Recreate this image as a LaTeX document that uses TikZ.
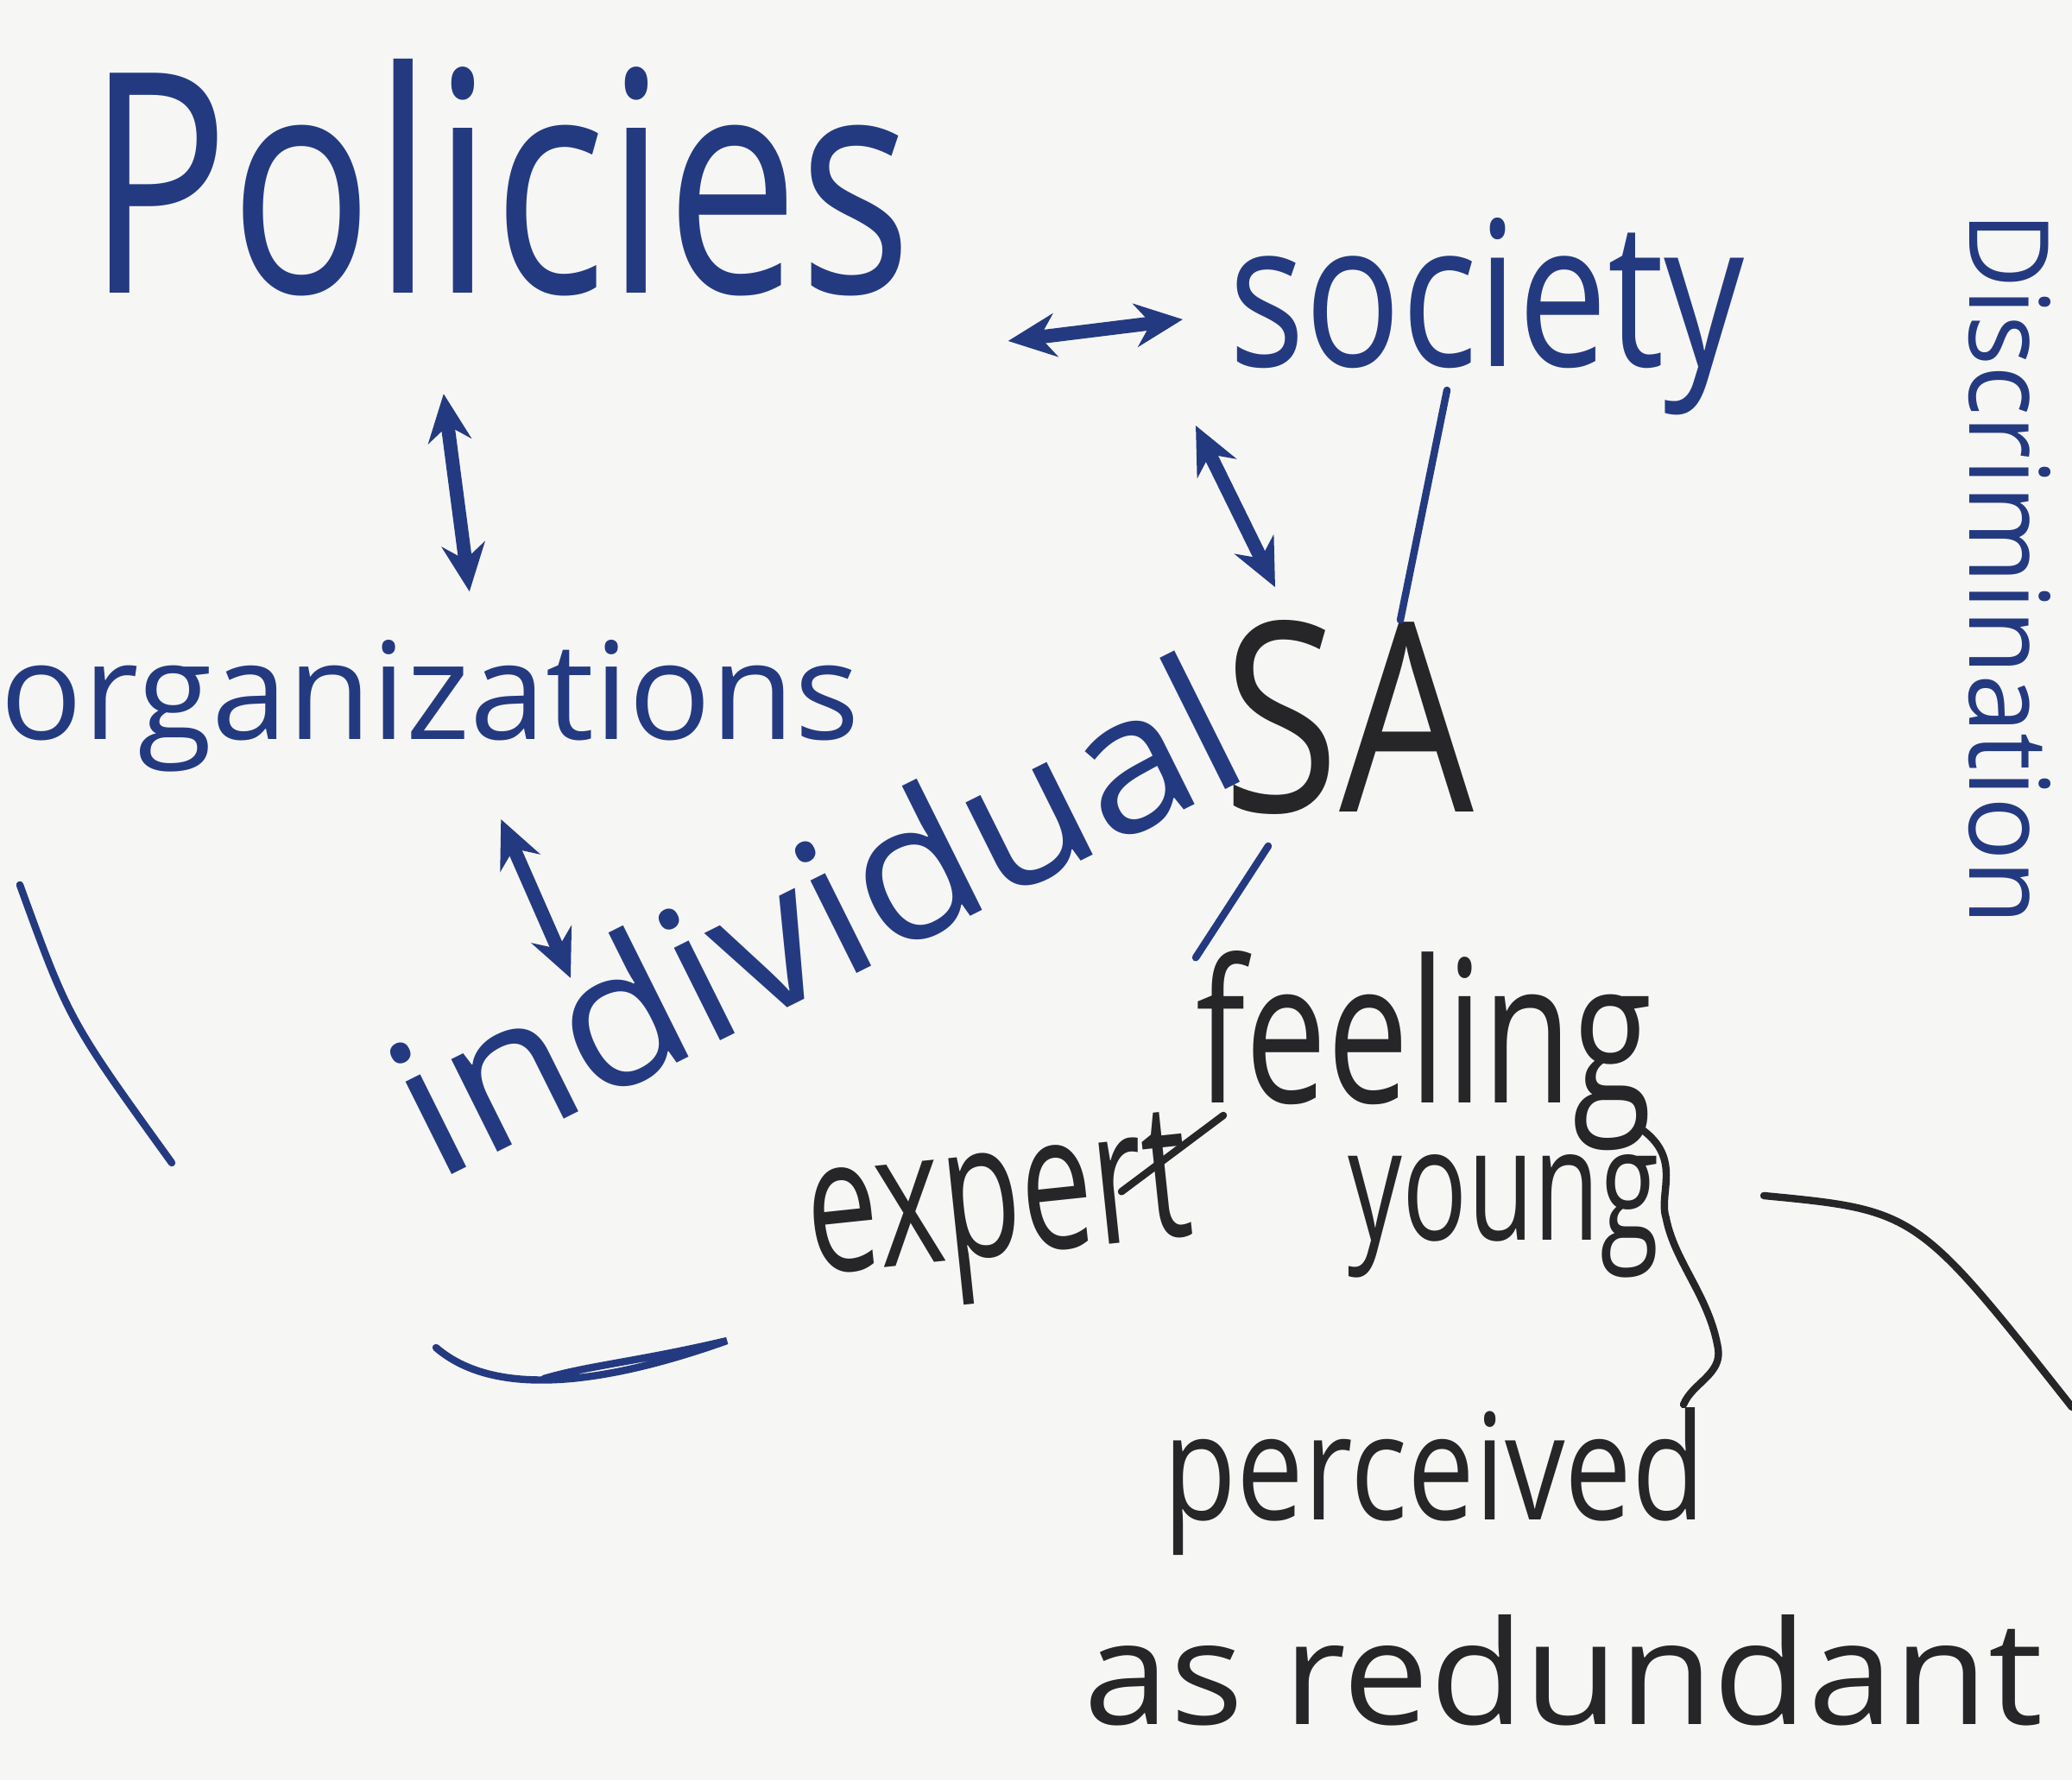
\documentclass[tikz,border=0pt]{standalone}
\usepackage{fontspec}
\usepackage{graphicx}
\setmainfont{Open Sans}
\usetikzlibrary{arrows.meta}
\definecolor{inkblue}{RGB}{36,58,128}
\definecolor{inkblack}{RGB}{38,38,40}
\definecolor{paper}{RGB}{246,246,245}
\newcommand{\hw}[3]{\resizebox{#1}{#2}{#3}}
\tikzset{
  word/.style={inner sep=0pt, anchor=base west},
  dbl/.style={draw=inkblue, line width=4.5pt, {Stealth[length=0.55cm,width=0.5cm]}-{Stealth[length=0.55cm,width=0.5cm]}},
  pen/.style={line width=2.4pt, line cap=round},
}
\begin{document}
\begin{tikzpicture}
\fill [paper] (0, 0) rectangle (24, 20.62);
\useasboundingbox (0, 0) rectangle (24, 20.62);
\node [word, text=inkblue] (pol) at (1.0, 17.22) {\hw{9.56cm}{2.71cm}{Policies}};
\node [word, text=inkblue] (soc) at (14.23, 16.37) {\hw{5.97cm}{1.72cm}{society}};
\node [word, text=inkblue] (org) at (0, 12.05) {\hw{9.95cm}{1.15cm}{organizations}};
\node [word, text=inkblue, rotate=26.5] (ind) at (5.05, 6.92) {\hw{10.6cm}{1.7cm}{individual}};
\node [word, text=inkblack] (sa) at (14.16, 11.21) {\hw{2.91cm}{2.22cm}{SA}};
\node [word, text=inkblack] (feel) at (13.85, 7.84) {\hw{5.28cm}{1.76cm}{feeling}};
\node [word, text=inkblack, rotate=6] (exp) at (9.41, 5.85) {\hw{4.45cm}{1.45cm}{expert}};
\node [word, text=inkblack] (yng) at (15.61, 6.25) {\hw{3.6cm}{0.99cm}{young}};
\node [word, text=inkblack] (perc) at (13.47, 3.02) {\hw{6.28cm}{1.3cm}{perceived}};
\node [word, text=inkblack] (red) at (12.55, 0.65) {\hw{11.1cm}{1.27cm}{as redundant}};
\node [word, text=inkblue, rotate=-90] (disc) at (22.81, 18.17) {\hw{8.26cm}{0.94cm}{Discrimination}};
\draw [dbl] ([xshift=1.10cm, yshift=-0.55cm]pol.base east) -- ([xshift=-0.53cm, yshift=0.55cm]soc.base west);
\draw [dbl] ([xshift=-0.65cm, yshift=-1.12cm]pol.south) -- ([xshift=0.455cm, yshift=0.56cm]org.north);
\draw [dbl] ([xshift=0.82cm, yshift=-0.92cm]org.base) -- ([xshift=1.56cm, yshift=2.37cm]ind.base west);
\draw [dbl] ([xshift=-0.38cm, yshift=-0.68cm]soc.base west) -- ([xshift=0.61cm, yshift=0.38cm]sa.north west);
\draw [pen, inkblue] ([xshift=2.53cm, yshift=-0.27cm]soc.base west) -- ([xshift=2.06cm]sa.north west);
\draw [pen, inkblue] ([xshift=0.53cm, yshift=-0.39cm]sa.base west) -- ([yshift=-0.08cm]feel.north west);
\draw [pen, inkblack] ([xshift=-0.86cm, yshift=0.5cm]exp.base east) -- ([xshift=0.32cm, yshift=-0.14cm]feel.base west);
\draw [pen, inkblack] (19.0, 7.55) .. controls (19.5, 7.2) and (19.2, 6.8) .. (19.3, 6.5) .. controls (19.4, 6.0) and (19.8, 5.6) .. (19.9, 5.0) .. controls (19.95, 4.7) and (19.6, 4.6) .. (19.5, 4.35);
\draw [pen, inkblack] (20.43, 6.77) .. controls (22.2, 6.6) .. (24.0, 4.32);
\draw [pen, inkblue] (0.23, 10.37) .. controls (0.8, 8.8) .. (1.99, 7.15);
\draw [pen, inkblue] (5.05, 5.01) .. controls (5.7, 4.45) and (6.9, 4.55) .. (8.42, 5.09) .. controls (7.4, 4.85) and (6.8, 4.8) .. (6.3, 4.65);
\end{tikzpicture}
\end{document}
